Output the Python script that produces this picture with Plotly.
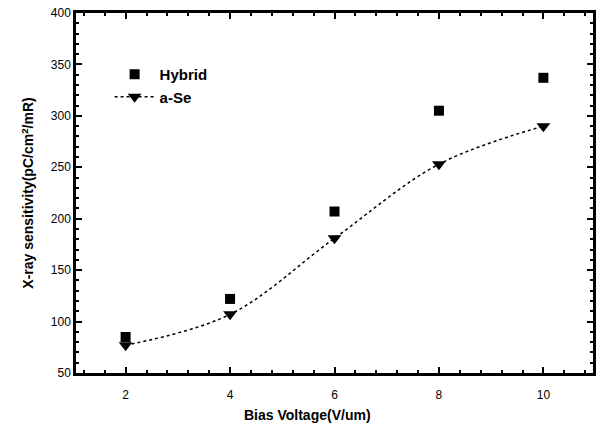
import plotly.graph_objects as go

bias = [2, 4, 6, 8, 10]
hybrid = [85, 122, 207, 305, 337]
a_se = [77, 107, 181, 253, 290]
x_ticks = [2, 4, 6, 8, 10]
y_ticks = [50, 100, 150, 200, 250, 300, 350, 400]

fig = go.Figure()
fig.add_trace(go.Scatter(
    x=bias, y=hybrid, mode="markers", name="<b>Hybrid</b>",
    marker=dict(symbol="square", size=10, color="black"),
))
fig.add_trace(go.Scatter(
    x=bias, y=a_se, mode="lines+markers", name="<b>a-Se</b>",
    line=dict(shape="spline", smoothing=1.0, dash="dot", width=1.5, color="black"),
    marker=dict(symbol="triangle-down", size=12, color="black"),
))

font = "Liberation Sans, Arial, sans-serif"
axis_common = dict(
    showline=True, linecolor="black", linewidth=2.5, mirror="ticks",
    ticks="inside", ticklen=6, tickwidth=2, tickcolor="black",
    showgrid=False, zeroline=False,
    tickfont=dict(family=font, size=12, color="black"),
)
fig.update_xaxes(
    range=[1.05, 10.95], tickvals=x_ticks, ticklabelstandoff=9,
    minor=dict(dtick=0.4, tick0=0, ticks="inside", ticklen=3, tickwidth=1.5, tickcolor="black"),
    **axis_common,
)
fig.update_yaxes(
    range=[50, 400], tickvals=y_ticks,
    minor=dict(dtick=10, tick0=0, ticks="inside", ticklen=3, tickwidth=1.5, tickcolor="black"),
    title=dict(text="<b>X-ray sensitivity(pC/cm<sup>2</sup>/mR)</b>", font=dict(family=font, size=14, color="black"), standoff=14),
    **axis_common,
)
fig.add_annotation(
    text="<b>Bias Voltage(V/um)</b>", xref="paper", yref="paper",
    x=0.448, y=-0.117, xanchor="center", yanchor="middle", showarrow=False,
    font=dict(family=font, size=14, color="black"),
)
fig.update_layout(
    width=597, height=430,
    margin=dict(l=76, r=1, t=13, b=57),
    paper_bgcolor="white", plot_bgcolor="white",
    showlegend=True,
    legend=dict(
        x=0.065, y=0.875, xanchor="left", yanchor="top",
        bgcolor="rgba(0,0,0,0)", borderwidth=0,
        font=dict(family=font, size=15, color="black"),
        itemwidth=40, tracegroupgap=0,
    ),
)
fig.write_html("out.html")
